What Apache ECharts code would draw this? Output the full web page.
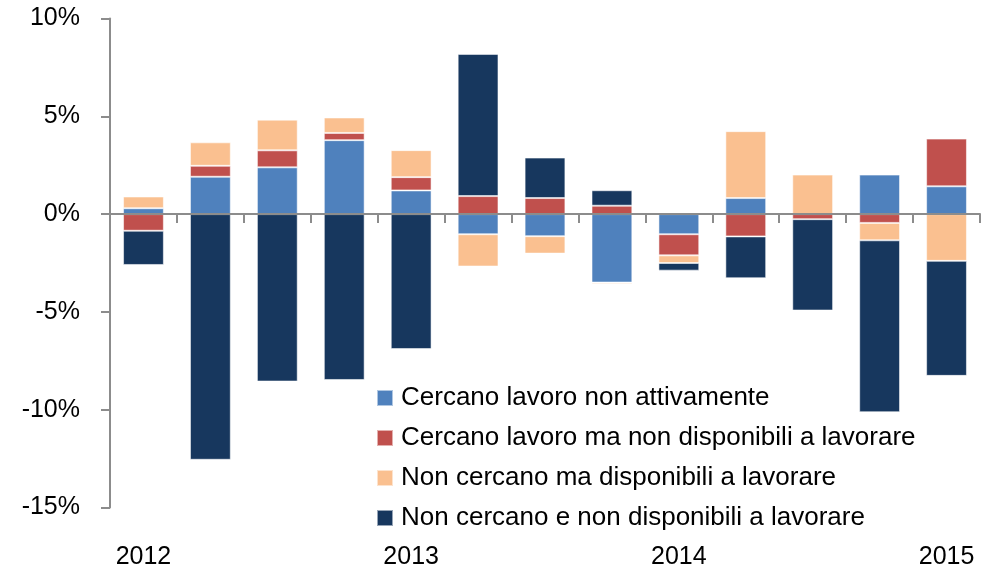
<!DOCTYPE html>
<html>
<head>
<meta charset="utf-8">
<script src="https://cdn.jsdelivr.net/npm/echarts@6/dist/echarts.min.js"></script>
<style>
  html, body { margin: 0; padding: 0; background: #fff; }
  #chart { width: 992px; height: 570px; }
</style>
</head>
<body>
<div id="chart"></div>
<script>
  // trimestri (contributi alla variazione, punti %)
  const quarters = ['2012-T1', '2012-T2', '2012-T3', '2012-T4',
                    '2013-T1', '2013-T2', '2013-T3', '2013-T4',
                    '2014-T1', '2014-T2', '2014-T3', '2014-T4',
                    '2015-T1'];
  const yearLabels = ['2012', '', '', '', '2013', '', '', '', '2014', '', '', '', '2015'];

  const cercanoNonAttivamente = [0.3, 1.91, 2.39, 3.78, 1.21, -1.03, -1.13, -3.5, -1.03, 0.82, 0, 2.02, 1.42];
  const cercanoNonDisponibili = [-0.85, 0.56, 0.87, 0.37, 0.68, 0.92, 0.82, 0.43, -1.08, -1.14, -0.26, -0.45, 2.44];
  const nonCercanoDisponibili = [0.6, 1.2, 1.57, 0.79, 1.38, -1.65, -0.89, -0.07, -0.39, 3.42, 2.02, -0.89, -2.39];
  const nonCercanoNonDisponibili = [-1.75, -12.56, -8.56, -8.48, -6.9, 7.27, 2.07, 0.79, -0.39, -2.14, -4.67, -8.79, -5.88];

  const seriesNames = [
    'Cercano lavoro non attivamente',
    'Cercano lavoro ma non disponibili a lavorare',
    'Non cercano ma disponibili a lavorare',
    'Non cercano e non disponibili a lavorare'
  ];
  const seriesData = [cercanoNonAttivamente, cercanoNonDisponibili, nonCercanoDisponibili, nonCercanoNonDisponibili];
  const colors = ['#4F81BD', '#C0504D', '#FAC090', '#17375E'];

  const font = 'Liberation Sans';
  const axisGrey = '#8c8c8c';

  let chart = echarts.init(document.getElementById('chart'), null, {renderer: 'canvas'});

  let option = {
    animation: false,
    backgroundColor: '#ffffff',
    grid: {left: 110, right: 12, top: 18.5, bottom: 62.5},
    legend: {
      orient: 'vertical',
      left: 376,
      top: 385,
      padding: 0,
      itemWidth: 16,
      itemHeight: 16,
      itemGap: 14,
      icon: 'rect',
      data: seriesNames,
      textStyle: {fontFamily: font, fontSize: 26, lineHeight: 26, color: '#000', padding: [0, 0, 0, 3]}
    },
    xAxis: [
      {
        // asse allo zero: linea e tacche
        type: 'category',
        data: quarters,
        z: 10,
        axisLine: {onZero: true, lineStyle: {color: axisGrey, width: 2}},
        axisTick: {show: true, interval: 0, length: 9, lineStyle: {color: axisGrey, width: 2}},
        axisLabel: {show: false}
      },
      {
        // etichette anni in basso
        type: 'category',
        data: quarters,
        position: 'bottom',
        axisLine: {show: false, onZero: false},
        axisTick: {show: false},
        axisLabel: {
          interval: 0,
          margin: 37,
          fontFamily: font,
          fontSize: 25,
          color: '#000',
          formatter: function (v, i) { return yearLabels[i]; }
        }
      }
    ],
    yAxis: {
      type: 'value',
      min: -15,
      max: 10,
      interval: 5,
      splitLine: {show: false},
      axisLine: {show: true, lineStyle: {color: axisGrey, width: 2}},
      axisTick: {show: true, length: 9, lineStyle: {color: axisGrey, width: 2}},
      axisLabel: {
        margin: 30,
        fontFamily: font,
        fontSize: 25,
        color: '#000',
        formatter: '{value}%'
      }
    },
    series: []
  };

  for (let k = 0; k < seriesNames.length; k++) {
    option.series.push({
      name: seriesNames[k],
      type: 'bar',
      stack: 'tot',
      xAxisIndex: 0,
      barWidth: '61%',
      data: seriesData[k],
      itemStyle: {
        color: colors[k],
        borderColor: 'rgba(255,255,255,0.55)',
        borderWidth: 1
      }
    });
  }

  chart.setOption(option);
</script>
</body>
</html>
